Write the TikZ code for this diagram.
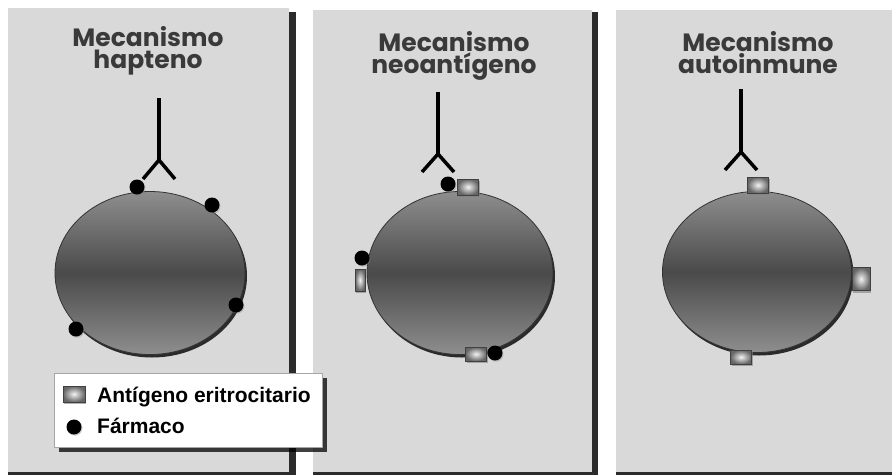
\documentclass[tikz,border=0pt]{standalone}
\usepackage{fontspec}
\usepackage{xcolor}
\usepackage{tikz}
\usetikzlibrary{shapes.geometric}
\usetikzlibrary{shadows}

\newfontfamily\titlefont{Poppins}
\newfontfamily\legendfont{Liberation Sans}

\definecolor{fondo}{HTML}{D9D9D9}
\definecolor{barra}{HTML}{2B2B2B}
\definecolor{titulogris}{HTML}{3A3A3A}
\definecolor{celclara}{HTML}{8E8E8E}
\definecolor{celoscura}{HTML}{4A4A4A}

\tikzset{
    titulo/.style = {anchor=north, inner sep=0pt, align=center, text=titulogris,
        font=\titlefont\bfseries\fontsize{25}{22}\selectfont},
    celula/.style = {ellipse, draw=black!80, line width=0.8pt,
        top color=celclara, bottom color=celclara, middle color=celoscura,
        drop shadow={shadow xshift=2pt, shadow yshift=-3pt, opacity=0.8, fill=black}},
    anticuerpo/.style = {line width=3.5pt, black},
    farmaco/.style = {circle, fill=black, minimum size=15pt, inner sep=0pt,
        drop shadow={shadow xshift=1pt, shadow yshift=-1.2pt, opacity=0.35}},
    antigeno/.style = {rectangle, draw=black!75, line width=0.8pt, inner sep=0pt,
        inner color=gray!10, outer color=black!60,
        drop shadow={shadow xshift=1pt, shadow yshift=-2pt, opacity=0.6}},
    leyenda/.style = {rectangle, fill=white, draw=black!35, line width=0.5pt,
        drop shadow={shadow xshift=5pt, shadow yshift=-5pt, opacity=0.75, fill=black}},
    textoley/.style = {anchor=base west, inner sep=0pt,
        font=\legendfont\bfseries\fontsize{21}{21}\selectfont}
}

\begin{document}
\begin{tikzpicture}[x=1pt, y=-1pt]
        \useasboundingbox (0, 0) rectangle (892, 475);
        \fill[white] (0, 0) rectangle (892, 475);

        % three panels with their dark edges
        \fill[barra] (8, 472) rectangle (296, 475);
        \fill[barra] (289, 12) rectangle (296, 475);
        \fill[fondo] (8, 8) rectangle (289, 472);
        \fill[barra] (313, 472) rectangle (598, 475);
        \fill[barra] (592, 12) rectangle (598, 475);
        \fill[fondo] (313, 10) rectangle (592, 472);
        \fill[barra] (616, 472) rectangle (892, 475);
        \fill[fondo] (616, 10) rectangle (892, 472);

        % titles
        \node[titulo] (tit1) at (148, 26) {Mecanismo\\hapteno};
        \node[titulo] (tit2) at (454, 31) {Mecanismo\\neoantígeno};
        \node[titulo] (tit3) at (758, 31) {Mecanismo\\autoinmune};

        % antibodies
        \coordinate (ab1) at (159, 98);
        \draw[anticuerpo] (ab1) -- ++(0, 62) coordinate (y1);
        \draw[anticuerpo] (y1) ++(-16, 19) -- (y1) -- ++(16, 19);
        \coordinate (ab2) at (438, 92);
        \draw[anticuerpo] (ab2) -- ++(0, 62) coordinate (y2);
        \draw[anticuerpo] (y2) ++(-16, 18) -- (y2) -- ++(16, 18);
        \coordinate (ab3) at (741, 89);
        \draw[anticuerpo] (ab3) -- ++(0, 63) coordinate (y3);
        \draw[anticuerpo] (y3) ++(-16, 18) -- (y3) -- ++(16, 18);

        % red cells
        \node[celula, minimum width=190pt, minimum height=163pt] (cel1) at (150, 273) {};
        \node[celula, minimum width=186pt, minimum height=163pt] (cel2) at (460, 273) {};
        \node[celula, minimum width=189pt, minimum height=161pt] (cel3) at (757, 272) {};

        % hapteno
        \node[farmaco] (f1) at (137, 187) {};
        \node[farmaco] (f2) at (212, 205) {};
        \node[farmaco] (f3) at (236, 305) {};
        \node[farmaco] (f4) at (76, 329) {};

        % neoantigeno
        \node[farmaco] (f5) at (448, 184) {};
        \node[antigeno, minimum width=21pt, minimum height=16pt] (a1) at (468, 187) {};
        \node[farmaco] (f6) at (362, 258) {};
        \node[antigeno, minimum width=10pt, minimum height=22pt] (a2) at (360, 280) {};
        \node[antigeno, minimum width=21pt, minimum height=14pt] (a3) at (476, 354) {};
        \node[farmaco] (f7) at (495, 353) {};

        % autoinmune
        \node[antigeno, minimum width=21pt, minimum height=16pt] (a4) at (758, 185) {};
        \node[antigeno, minimum width=18pt, minimum height=23pt] (a5) at (861, 279) {};
        \node[antigeno, minimum width=21pt, minimum height=14pt] (a6) at (741, 357) {};

        % legend
        \node[leyenda, minimum width=268pt, minimum height=74pt] (ley) at (188, 410) {};
        \node[antigeno, minimum width=22pt, minimum height=16pt] (ley1) at (74, 394) {};
        \node[textoley] (txt1) at (97, 402) {Antígeno eritrocitario};
        \node[farmaco] (ley2) at (74, 427) {};
        \node[textoley] (txt2) at (97, 433) {Fármaco};
\end{tikzpicture}
\end{document}
